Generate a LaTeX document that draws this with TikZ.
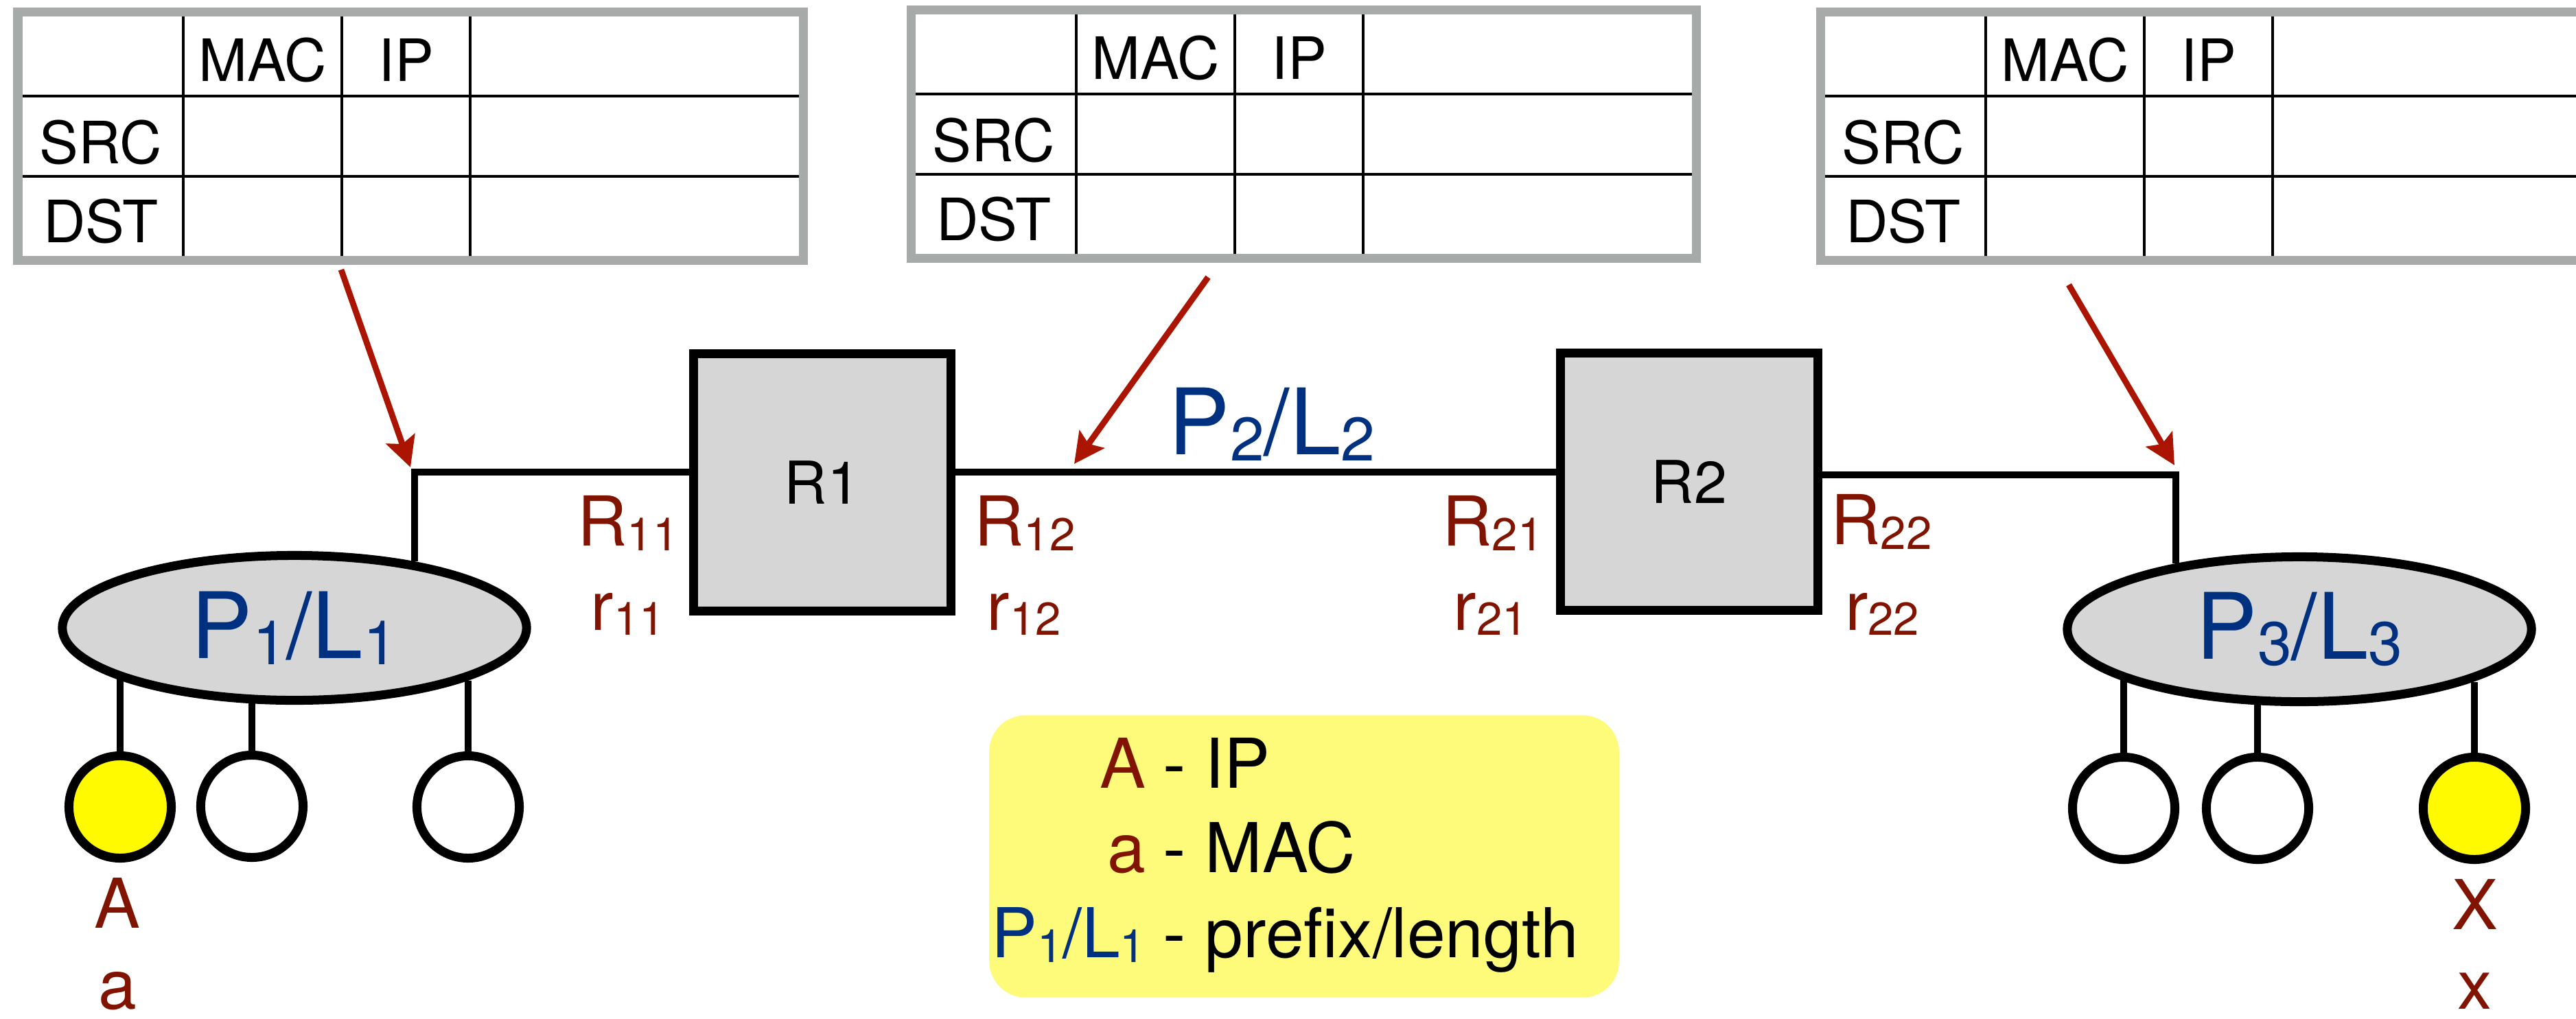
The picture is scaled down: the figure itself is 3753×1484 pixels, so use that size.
\documentclass[tikz,border=0pt]{standalone}
\usepackage{fontspec}
\setmainfont{TeX Gyre Heros}
\usetikzlibrary{arrows.meta,shapes.geometric}
\makeatletter
\newcommand{\low}[1]{\raisebox{-0.07em}{\fontsize{\fpeval{0.67*\f@size}}{0}\selectfont #1}}
\makeatother

\begin{document}
\begin{tikzpicture}[x=0.01cm,y=-0.01cm]
  \definecolor{labred}{RGB}{128,20,0}
  \definecolor{ptrred}{RGB}{170,20,0}
  \definecolor{netblue}{RGB}{0,48,128}
  \definecolor{boxgray}{RGB}{214,214,214}
  \definecolor{framegray}{RGB}{166,170,169}
  \definecolor{legyellow}{RGB}{254,250,122}
  \definecolor{hostyellow}{RGB}{255,250,0}
  \tikzset{
    tabframe/.style={draw=framegray,line width=3.7pt},
    cellrule/.style={line width=1.1pt},
    tabtxt/.style={font=\fontsize{24.2}{24.2}\selectfont,inner sep=0pt,anchor=base},
    router/.style={draw,fill=boxgray,line width=3.55pt,minimum size=3.75cm,inner sep=0pt,font=\fontsize{24.5}{24.5}\selectfont},
    lan/.style={ellipse,draw,fill=boxgray,line width=3.7pt,minimum width=6.76cm,minimum height=2.11cm,text=netblue,font=\fontsize{38}{38}\selectfont},
    host/.style={circle,draw,fill=white,line width=3.7pt,minimum size=1.49cm,inner sep=0pt},
    link/.style={line width=2.85pt},
    pointer/.style={draw=ptrred,line width=2.5pt,-{Stealth[length=12.5pt,width=12.5pt,inset=2.3pt]}},
    ifname/.style={text=labred,font=\fontsize{28.5}{28.5}\selectfont,inner sep=0pt,anchor=base},
    legtxt/.style={font=\fontsize{28.5}{28.5}\selectfont,inner sep=0pt},
    legendbox/.style={fill=legyellow,rounded corners=15pt,minimum width=9.17cm,minimum height=4.11cm,inner sep=0pt}
  }
  \useasboundingbox (0,0) rectangle (3753,1484);
  \clip (0,0) rectangle (3753,1484);
  \foreach \tx/\ty/\tn in {26/17/tabA,1327/14/tabB,2652/17/tabC} {
    \draw[cellrule] (\tx,\ty+123) -- ++(1144,0) (\tx,\ty+240) -- ++(1144,0);
    \draw[cellrule] (\tx+241,\ty) -- ++(0,362) (\tx+472,\ty) -- ++(0,362) (\tx+659,\ty) -- ++(0,362);
    \draw[tabframe] (\tx,\ty) rectangle ++(1144,362);
    \node[tabtxt] (\tn-mac) at (\tx+357,\ty+101) {MAC};
    \node[tabtxt] (\tn-ip) at (\tx+566,\ty+101) {IP};
    \node[tabtxt] (\tn-src) at (\tx+121,\ty+221) {SRC};
    \node[tabtxt] (\tn-dst) at (\tx+121,\ty+336) {DST};
  }
  \node[router] (R1) at (1198,703) {R1};
  \node[router] (R2) at (2461,702) {R2};
  \node[lan] (P1) at (429,915) {P\low{1}/L\low{1}};
  \node[lan] (P3) at (3350,917) {P\low{3}/L\low{3}};
  \node[host,fill=hostyellow] (hA) at (175,1176) {};
  \node[host] (h12) at (367,1175) {};
  \node[host] (h13) at (682,1176) {};
  \node[host] (h31) at (3094,1178) {};
  \node[host] (h32) at (3289,1178) {};
  \node[host,fill=hostyellow] (hX) at (3605,1178) {};
  \coordinate (lk1) at (604,688);
  \coordinate (lk3) at (3170,692);
  \draw[link] (lk1 |- P1.29) -- (lk1) -- (lk1 -| R1.west);
  \draw[link] (R1.east |- lk1) -- (R2.west |- lk1);
  \draw[link] (R2.east |- lk3) -- (lk3) -- (lk3 |- P3.152);
  \draw[link] (hA.north) -- (hA.north |- P1.196);
  \draw[link] (h12.north) -- (h12.north |- P1.241);
  \draw[link] (h13.north) -- (h13.north |- P1.343);
  \draw[link] (h31.north) -- (h31.north |- P3.196);
  \draw[link] (h32.north) -- (h32.north |- P3.241);
  \draw[link] (hX.north) -- (hX.north |- P3.343);
  \coordinate (tabA-out) at (497,393);
  \coordinate (tabB-out) at (1760,404);
  \coordinate (tabC-out) at (3014,415);
  \coordinate (tip1) at (598,681);
  \coordinate (tip2) at (1565,676);
  \coordinate (tip3) at (3168,678);
  \draw[pointer] (tabA-out) -- (tip1);
  \draw[pointer] (tabB-out) -- (tip2);
  \draw[pointer] (tabC-out) -- (tip3);
  \node[text=netblue,font=\fontsize{38}{38}\selectfont,inner sep=0pt,anchor=base] (P2) at (1853,662) {P\low{2}/L\low{2}};
  \node[ifname] (R11) at (915,795) {R\low{11}};
  \node[ifname] (r11) at (915,918) {r\low{11}};
  \node[ifname] (R12) at (1493,795) {R\low{12}};
  \node[ifname] (r12) at (1492,918) {r\low{12}};
  \node[ifname] (R21) at (2175,795) {R\low{21}};
  \node[ifname] (r21) at (2172,918) {r\low{21}};
  \node[ifname] (R22) at (2741,793) {R\low{22}};
  \node[ifname] (r22) at (2742,918) {r\low{22}};
  \node[ifname] (ipA) at (171,1352) {A};
  \node[ifname] (macA) at (171,1470) {a};
  \node[ifname] (ipX) at (3606,1354) {X};
  \node[ifname] (macX) at (3606,1470) {x};
  \node[legendbox] (legend) at (1900,1248) {};
  \node[legtxt,anchor=base east,text=labred] (keyA) at (1670,1148) {A};
  \node[legtxt,anchor=base west] (valA) at (1694,1148) {- IP};
  \node[legtxt,anchor=base east,text=labred] (keya) at (1670,1271) {a};
  \node[legtxt,anchor=base west] (vala) at (1694,1271) {- MAC};
  \node[legtxt,anchor=base east,text=netblue] (keyP) at (1670,1395) {P\low{1}/L\low{1}};
  \node[legtxt,anchor=base west] (valP) at (1694,1395) {- prefix/length};
\end{tikzpicture}
\end{document}
